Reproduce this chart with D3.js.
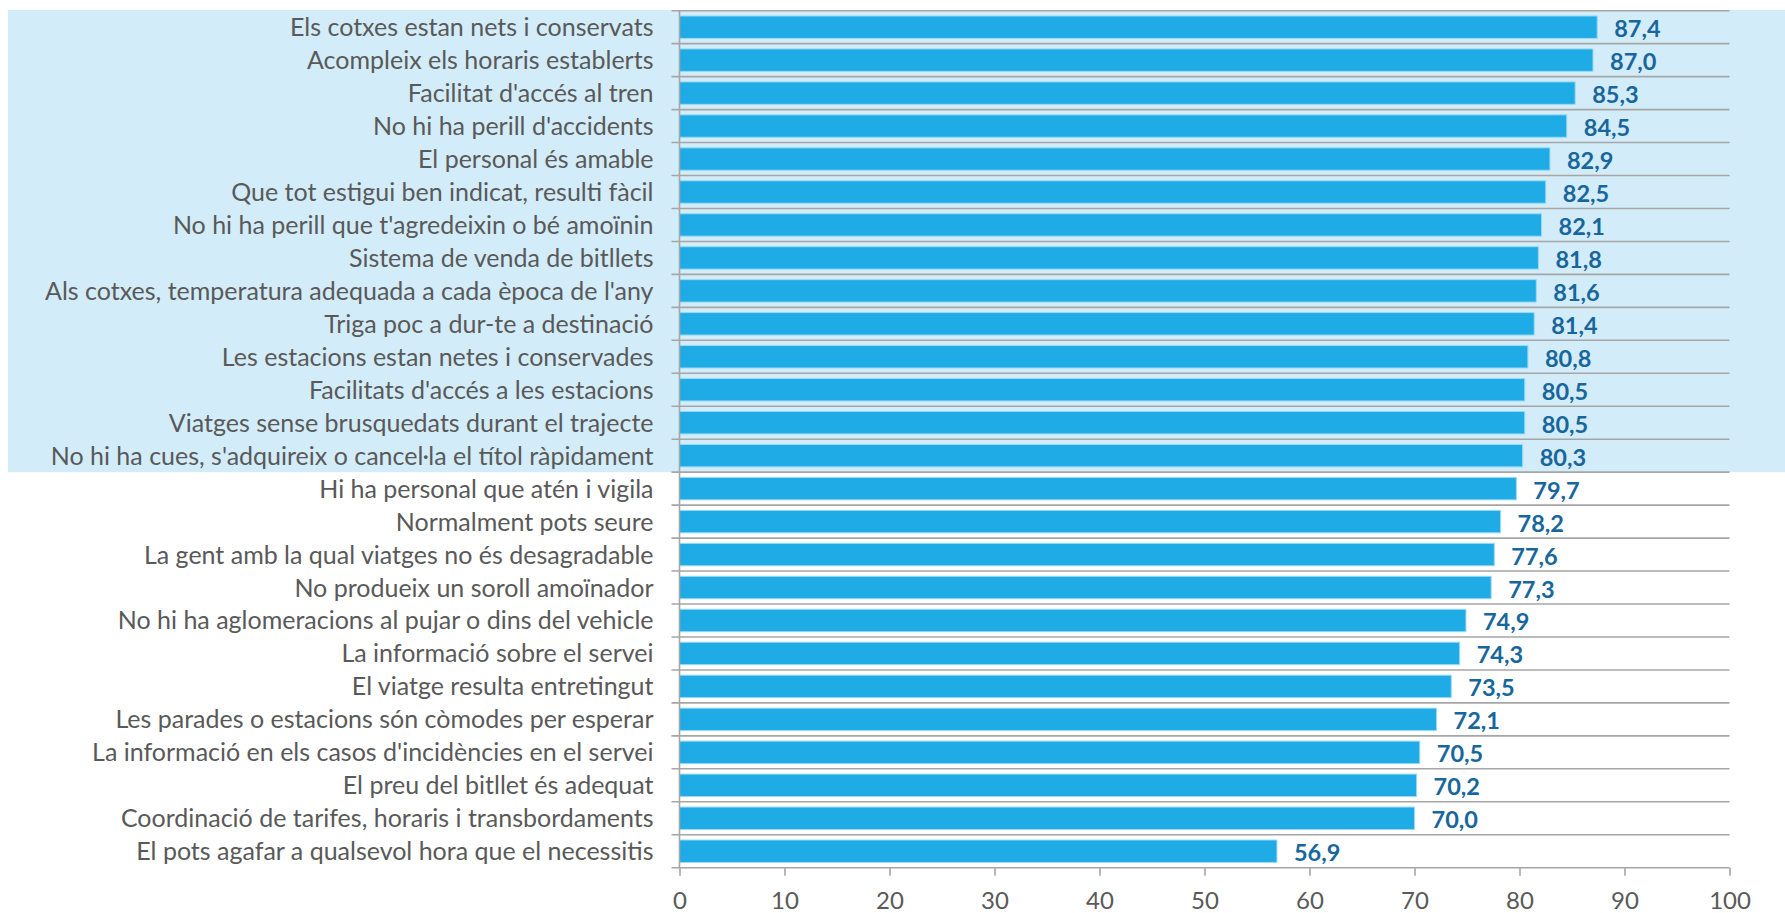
<!DOCTYPE html>
<html>
<head>
<meta charset="utf-8">
<script src="https://cdn.jsdelivr.net/npm/d3@7"></script>
<style>
  body { margin: 0; background: #ffffff; }
  text { font-family: Lato, "Open Sans", sans-serif; }
</style>
</head>
<body>
<div id="container"></div>
<script>
let width = 1785;
let height = 913;

let categories = [
    "Els cotxes estan nets i conservats",
    "Acompleix els horaris establerts",
    "Facilitat d'accés al tren",
    "No hi ha perill d'accidents",
    "El personal és amable",
    "Que tot estigui ben indicat, resulti fàcil",
    "No hi ha perill que t'agredeixin o bé amoïnin",
    "Sistema de venda de bitllets",
    "Als cotxes, temperatura adequada a cada època de l'any",
    "Triga poc a dur-te a destinació",
    "Les estacions estan netes i conservades",
    "Facilitats d'accés a les estacions",
    "Viatges sense brusquedats durant el trajecte",
    "No hi ha cues, s'adquireix o cancel·la el títol ràpidament",
    "Hi ha personal que atén i vigila",
    "Normalment pots seure",
    "La gent amb la qual viatges no és desagradable",
    "No produeix un soroll amoïnador",
    "No hi ha aglomeracions al pujar o dins del vehicle",
    "La informació sobre el servei",
    "El viatge resulta entretingut",
    "Les parades o estacions són còmodes per esperar",
    "La informació en els casos d'incidències en el servei",
    "El preu del bitllet és adequat",
    "Coordinació de tarifes, horaris i transbordaments",
    "El pots agafar a qualsevol hora que el necessitis"
];
let values = [87.4, 87.0, 85.3, 84.5, 82.9, 82.5, 82.1, 81.8, 81.6, 81.4, 80.8, 80.5, 80.5,
    80.3, 79.7, 78.2, 77.6, 77.3, 74.9, 74.3, 73.5, 72.1, 70.5, 70.2, 70.0, 56.9];
let xTicks = [0, 10, 20, 30, 40, 50, 60, 70, 80, 90, 100];
// the first rows are shaded in the original
let highlighted = categories.slice(0, 14);

let margin = { top: 10.7, right: 55.5, bottom: 45.3, left: 679.5 };
let innerW = width - margin.left - margin.right;
let innerH = height - margin.top - margin.bottom;

let svg = d3.select("#container")
    .append("svg")
    .attr("width", width)
    .attr("height", height);

let x = d3.scaleLinear().domain([0, 100]).range([0, innerW]);
let y = d3.scaleBand().domain(categories).range([0, innerH])
    .paddingInner(0.32).paddingOuter(0.16);
let step = y.step();

// shaded block behind the top rows
svg.append('rect')
    .attr('x', 8)
    .attr('y', margin.top - 0.7)
    .attr('width', width - 8)
    .attr('height', highlighted.length * step + 0.7)
    .attr('fill', '#d3ecf9');

let g = svg.append('g')
    .attr('transform', `translate(${margin.left},${margin.top})`);

// horizontal lines between the rows
let bounds = d3.range(categories.length + 1);
g.selectAll('.grid')
    .data(bounds)
    .enter()
    .append('line')
    .attr('class', 'grid')
    .attr('x1', -8)
    .attr('x2', innerW)
    .attr('y1', (d) => d * step)
    .attr('y2', (d) => d * step)
    .attr('stroke', '#a6a6a6')
    .attr('stroke-width', 1.6);

g.selectAll('.bar')
    .data(values)
    .enter()
    .append('rect')
    .attr('class', 'bar')
    .attr('x', 0)
    .attr('y', (d, i) => y(categories[i]))
    .attr('width', (d) => x(d))
    .attr('height', y.bandwidth())
    .attr('fill', '#1eabe6')
    .attr('stroke', '#9bd9f4')
    .attr('stroke-width', 1);

g.selectAll('.val')
    .data(values)
    .enter()
    .append('text')
    .attr('class', 'val')
    .attr('x', (d) => x(d) + 17)
    .attr('y', (d, i) => y(categories[i]) + y.bandwidth() / 2 + 10)
    .attr('font-size', 23.5)
    .attr('font-weight', 'bold')
    .attr('fill', '#17669c')
    .text((d) => d.toFixed(1).replace('.', ','));

g.selectAll('.cat')
    .data(categories)
    .enter()
    .append('text')
    .attr('class', 'cat')
    .attr('x', -26)
    .attr('y', (d) => y(d) + y.bandwidth() / 2 + 9)
    .attr('text-anchor', 'end')
    .attr('font-size', 25)
    .attr('fill', '#595959')
    .text((d) => d);

// y axis line
g.append('line')
    .attr('x1', 0).attr('x2', 0)
    .attr('y1', 0).attr('y2', innerH)
    .attr('stroke', '#a6a6a6')
    .attr('stroke-width', 1.6);

// x axis
let xAxis = g.append('g')
    .attr('transform', `translate(0,${innerH})`)
    .call(d3.axisBottom(x).tickValues(xTicks).tickSize(8).tickPadding(16));
xAxis.select('.domain').remove();
xAxis.selectAll('line').attr('stroke', '#a6a6a6').attr('stroke-width', 1.6);
xAxis.selectAll('text')
    .attr('font-size', 24)
    .attr('fill', '#595959')
    .attr('font-family', 'Lato, "Open Sans", sans-serif');
</script>
</body>
</html>
